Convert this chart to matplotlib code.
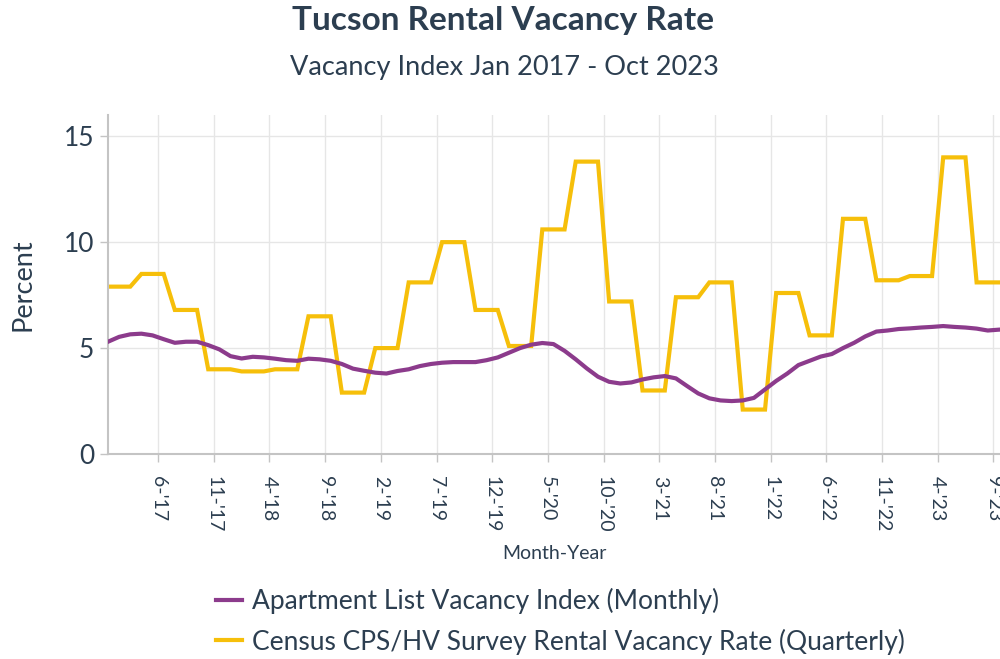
import matplotlib
matplotlib.use("Agg")
import matplotlib.pyplot as plt
from matplotlib.lines import Line2D

plt.rcParams['font.family'] = ['Lato', 'DejaVu Sans']

# months from Jan 2017 to Oct 2023 (index 0 = Jan 2017, points sit mid-month)
apt_list = [5.30, 5.53, 5.65, 5.68, 5.60, 5.42, 5.25, 5.30, 5.30, 5.14,
            4.94, 4.62, 4.51, 4.59, 4.56, 4.50, 4.43, 4.40, 4.50, 4.47,
            4.40, 4.25, 4.03, 3.93, 3.84, 3.80, 3.92, 4.00, 4.15, 4.25,
            4.31, 4.34, 4.34, 4.34, 4.43, 4.56, 4.78, 5.00, 5.16, 5.24,
            5.19, 4.87, 4.47, 4.04, 3.65, 3.41, 3.33, 3.38, 3.52, 3.62,
            3.68, 3.57, 3.21, 2.86, 2.63, 2.53, 2.50, 2.53, 2.65, 3.05,
            3.45, 3.80, 4.20, 4.40, 4.60, 4.72, 5.00, 5.25, 5.55, 5.78,
            5.83, 5.90, 5.93, 5.97, 6.00, 6.04, 6.00, 5.97, 5.92, 5.83,
            5.87, 5.90]

census_quarters = [7.9, 8.5, 6.8, 4.0,
                   3.9, 4.0, 6.5, 2.9,
                   5.0, 8.1, 10.0, 6.8,
                   5.1, 10.6, 13.8, 7.2,
                   3.0, 7.4, 8.1, 2.1,
                   7.6, 5.6, 11.1, 8.2,
                   8.4, 14.0, 8.1]

tick_months = [5, 10, 15, 20, 25, 30, 35, 40, 45, 50, 55, 60, 65, 70, 75, 80]
tick_labels = ["6-'17", "11-'17", "4-'18", "9-'18", "2-'19", "7-'19", "12-'19",
               "5-'20", "10-'20", "3-'21", "8-'21", "1-'22", "6-'22", "11-'22",
               "4-'23", "9-'23"]

purple = '#8c3b8c'
yellow = '#f6bf0a'
text_c = '#2c3e50'
grid_c = '#e6e6e6'
spine_c = '#c4c4c4'

# quarterly value held for each of its three months
census_monthly = []
for v in census_quarters:
    census_monthly += [v, v, v]

x_apt = list(range(len(apt_list)))
x_census = list(range(len(census_monthly)))

fig = plt.figure(figsize=(10, 6.59), dpi=100)
ax = fig.add_axes([0.108, 0.311, 0.892, 0.5145])

ax.plot(x_apt, apt_list, color=purple, lw=3.0, solid_joinstyle='round', zorder=3)
ax.plot(x_census, census_monthly, color=yellow, lw=3.0, solid_joinstyle='miter', zorder=2)

ax.set_xlim(0, 80.1)
ax.set_ylim(0, 16)
ax.set_yticks([0, 5, 10, 15])
# ticks fall on the first of the month, half a step before the mid-month points
ax.set_xticks([m - 0.5 for m in tick_months])
ax.set_xticklabels(tick_labels, rotation=-90, fontsize=14, color=text_c)
ax.tick_params(axis='y', labelsize=19, colors=spine_c, labelcolor=text_c, length=6, width=1, pad=4)
ax.tick_params(axis='x', colors=spine_c, labelcolor=text_c, length=6, width=1, pad=10)

ax.grid(True, color=grid_c, lw=1)
ax.set_axisbelow(True)
for s in ['top', 'right']:
    ax.spines[s].set_visible(False)
for s in ['left', 'bottom']:
    ax.spines[s].set_color(spine_c)
    ax.spines[s].set_linewidth(1.5)

ax.set_ylabel('Percent', fontsize=19.5, color=text_c, labelpad=20)
ax.set_xlabel('Month-Year', fontsize=14, color=text_c, labelpad=9)

fig.text(0.503, 0.969, 'Tucson Rental Vacancy Rate', ha='center', va='center',
         fontsize=24, fontweight='bold', color=text_c)
fig.text(0.504, 0.898, 'Vacancy Index Jan 2017 - Oct 2023', ha='center', va='center',
         fontsize=19.5, color=text_c)

handles = [Line2D([], [], color=purple, lw=3.0),
           Line2D([], [], color=yellow, lw=3.0)]
fig.legend(handles,
           ['Apartment List Vacancy Index (Monthly)',
            'Census CPS/HV Survey Rental Vacancy Rate (Quarterly)'],
           loc='upper left', bbox_to_anchor=(0.216, 0.108), bbox_transform=fig.transFigure,
           frameon=False, fontsize=19, labelcolor=text_c, handlelength=1.0,
           handletextpad=0.35, labelspacing=0.55, borderaxespad=0,
           borderpad=0)

fig.savefig('out.png', dpi=100)
